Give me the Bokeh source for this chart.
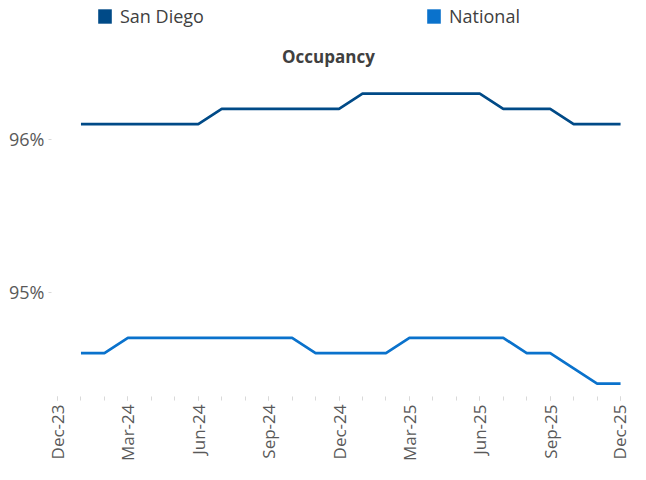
import math
from bokeh.plotting import figure
from bokeh.models import FixedTicker, Legend, LegendItem, Label, Range1d
from bokeh.embed import file_html
from bokeh.resources import INLINE

months = ["Dec-23", "Jan-24", "Feb-24", "Mar-24", "Apr-24", "May-24", "Jun-24",
          "Jul-24", "Aug-24", "Sep-24", "Oct-24", "Nov-24", "Dec-24",
          "Jan-25", "Feb-25", "Mar-25", "Apr-25", "May-25", "Jun-25",
          "Jul-25", "Aug-25", "Sep-25", "Oct-25", "Nov-25", "Dec-25"]
data_months = months[1:]
san_diego = [96.1, 96.1, 96.1, 96.1, 96.1, 96.1,
             96.2, 96.2, 96.2, 96.2, 96.2, 96.2,
             96.3, 96.3, 96.3, 96.3, 96.3, 96.3,
             96.2, 96.2, 96.2,
             96.1, 96.1, 96.1]
national = [94.6, 94.6, 94.7, 94.7, 94.7, 94.7, 94.7, 94.7, 94.7, 94.7,
            94.6, 94.6, 94.6, 94.6,
            94.7, 94.7, 94.7, 94.7, 94.7,
            94.6, 94.6, 94.5, 94.4, 94.4]
y_ticks = [95, 96]
y_tick_labels = ["95%", "96%"]
tick_months = months[::3]

sd_color = "#004A87"
nat_color = "#0A72CC"
font = "Open Sans"

x = [months.index(m) for m in data_months]

p = figure(width=630, height=464, output_backend="svg", toolbar_location=None,
           x_range=Range1d(-0.256, 24.04), y_range=Range1d(94.316, 96.91),
           min_border_left=51, min_border_right=9, min_border_top=0, min_border_bottom=62)
p.outline_line_color = None
p.xgrid.grid_line_color = None
p.ygrid.grid_line_color = None

p.line(x, san_diego, line_color=sd_color, line_width=2.7)
p.line(x, national, line_color=nat_color, line_width=2.7)

# x axis
p.xaxis.ticker = FixedTicker(ticks=[months.index(m) for m in tick_months],
                             minor_ticks=list(range(len(months))))
p.xaxis.major_label_overrides = {months.index(m): m for m in tick_months}
p.xaxis.major_label_orientation = math.pi / 2
p.xaxis.axis_line_color = None
p.xaxis.major_tick_line_color = "#d9d9d9"
p.xaxis.minor_tick_line_color = "#d9d9d9"
p.xaxis.major_tick_out = 4
p.xaxis.major_tick_in = 0
p.xaxis.minor_tick_out = 4
p.xaxis.minor_tick_in = 0
p.xaxis.major_label_text_font = font
p.xaxis.major_label_text_font_size = "17px"
p.xaxis.major_label_text_color = "#595959"
p.xaxis.major_label_standoff = 4

# y axis
p.yaxis.ticker = FixedTicker(ticks=y_ticks, minor_ticks=[])
p.yaxis.major_label_overrides = dict(zip(y_ticks, y_tick_labels))
p.yaxis.axis_line_color = None
p.yaxis.major_tick_line_color = "#d9d9d9"
p.yaxis.major_tick_out = 3
p.yaxis.major_tick_in = 0
p.yaxis.minor_tick_line_color = None
p.yaxis.major_label_text_font = font
p.yaxis.major_label_text_font_size = "18px"
p.yaxis.major_label_text_color = "#595959"
p.yaxis.major_label_standoff = 4

# legend swatches (renderers with no visible data, used only for the legend)
nan = float("nan")
sq1 = p.quad(left=[nan], right=[nan], top=[nan], bottom=[nan], fill_color=sd_color, line_color=None)
sq2 = p.quad(left=[nan], right=[nan], top=[nan], bottom=[nan], fill_color=nat_color, line_color=None)

def make_legend(label, r, loc):
    lg = Legend(items=[LegendItem(label=label, renderers=[r])], location=loc,
                orientation="horizontal", padding=0, margin=0,
                border_line_alpha=0, background_fill_alpha=0,
                glyph_width=17, glyph_height=18, label_standoff=7,
                label_text_font=font, label_text_font_size="18px",
                label_text_color="#404040")
    return lg

p.add_layout(make_legend("San Diego", sq1, (45, 368)))
p.add_layout(make_legend("National", sq2, (374, 368)))

title = Label(x=11.55, y=96.542, text="Occupancy", text_align="center",
              text_baseline="middle", text_font=font, text_font_size="17px",
              text_font_style="bold", text_color="#404040")
p.add_layout(title)

open("out.html", "w").write(file_html(p, INLINE))
